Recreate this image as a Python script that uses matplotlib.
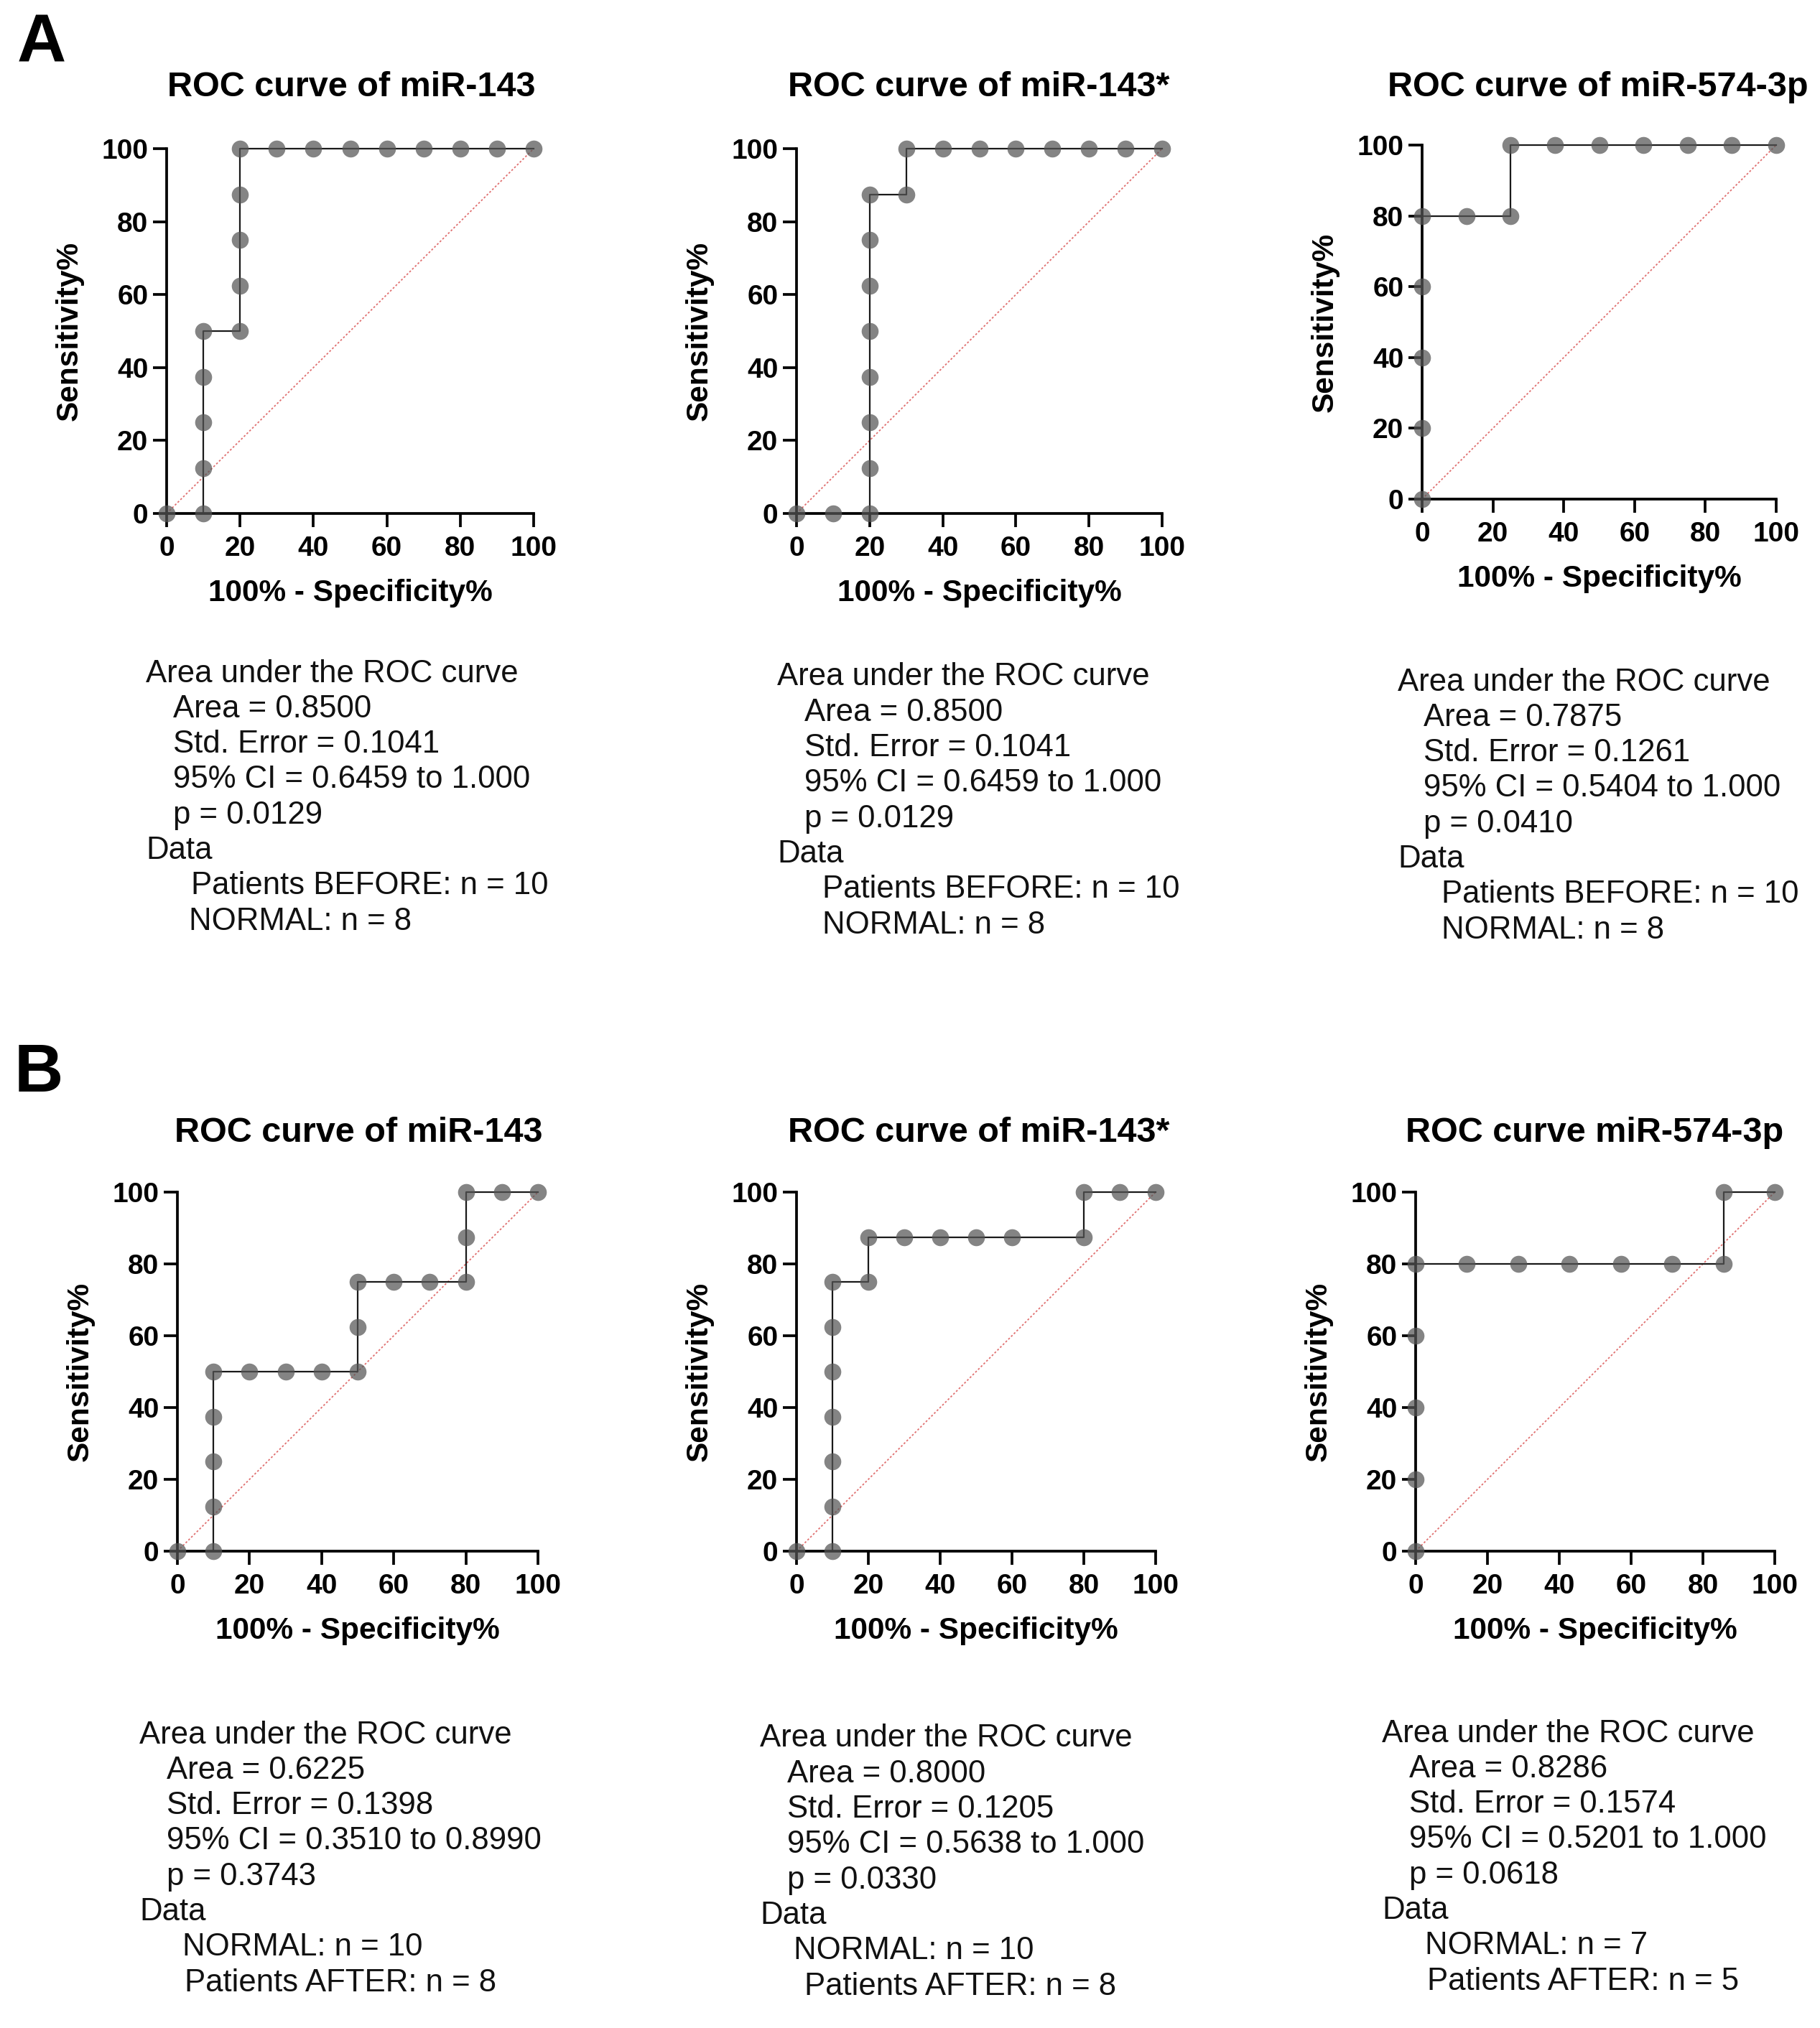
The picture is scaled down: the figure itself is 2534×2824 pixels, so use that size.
import matplotlib
matplotlib.use("Agg")
import matplotlib.pyplot as plt

plt.rcParams['font.family'] = ['Liberation Sans', 'DejaVu Sans']

W, H = 2534, 2824

# ---------------- data ----------------
titles = ["ROC curve of miR-143", "ROC curve of miR-143*", "ROC curve of miR-574-3p",
          "ROC curve of miR-143", "ROC curve of miR-143*", "ROC curve miR-574-3p"]

a1_x = [0, 10, 10, 10, 10, 10, 20, 20, 20, 20, 20, 30, 40, 50, 60, 70, 80, 90, 100]
a1_y = [0, 0, 12.5, 25, 37.5, 50, 50, 62.5, 75, 87.5, 100, 100, 100, 100, 100, 100, 100, 100, 100]

a2_x = [0, 10, 20, 20, 20, 20, 20, 20, 20, 20, 30, 30, 40, 50, 60, 70, 80, 90, 100]
a2_y = [0, 0, 0, 12.5, 25, 37.5, 50, 62.5, 75, 87.5, 87.5, 100, 100, 100, 100, 100, 100, 100, 100]

a3_x = [0, 0, 0, 0, 0, 12.5, 25, 25, 37.5, 50, 62.5, 75, 87.5, 100]
a3_y = [0, 20, 40, 60, 80, 80, 80, 100, 100, 100, 100, 100, 100, 100]

b1_x = [0, 10, 10, 10, 10, 10, 20, 30, 40, 50, 50, 50, 60, 70, 80, 80, 80, 90, 100]
b1_y = [0, 0, 12.5, 25, 37.5, 50, 50, 50, 50, 50, 62.5, 75, 75, 75, 75, 87.5, 100, 100, 100]

b2_x = [0, 10, 10, 10, 10, 10, 10, 10, 20, 20, 30, 40, 50, 60, 80, 80, 90, 100]
b2_y = [0, 0, 12.5, 25, 37.5, 50, 62.5, 75, 75, 87.5, 87.5, 87.5, 87.5, 87.5, 87.5, 100, 100, 100]

b3_x = [0, 0, 0, 0, 0, 14.29, 28.57, 42.86, 57.14, 71.43, 85.71, 85.71, 100]
b3_y = [0, 20, 40, 60, 80, 80, 80, 80, 80, 80, 80, 100, 100]

xs_all = [a1_x, a2_x, a3_x, b1_x, b2_x, b3_x]
ys_all = [a1_y, a2_y, a3_y, b1_y, b2_y, b3_y]

ticks = [0, 20, 40, 60, 80, 100]

area = ["0.8500", "0.8500", "0.7875", "0.6225", "0.8000", "0.8286"]
stderr = ["0.1041", "0.1041", "0.1261", "0.1398", "0.1205", "0.1574"]
ci = ["0.6459 to 1.000", "0.6459 to 1.000", "0.5404 to 1.000",
      "0.3510 to 0.8990", "0.5638 to 1.000", "0.5201 to 1.000"]
pval = ["0.0129", "0.0129", "0.0410", "0.3743", "0.0330", "0.0618"]
group1 = ["Patients BEFORE: n = 10", "Patients BEFORE: n = 10", "Patients BEFORE: n = 10",
          "NORMAL: n = 10", "NORMAL: n = 10", "NORMAL: n = 7"]
group2 = ["NORMAL: n = 8", "NORMAL: n = 8", "NORMAL: n = 8",
          "Patients AFTER: n = 8", "Patients AFTER: n = 8", "Patients AFTER: n = 5"]

# ---------------- layout (pixels) ----------------
axes_px = [(232, 743, 207, 715), (1109, 1618, 207, 715), (1980, 2473, 202, 695),
           (247, 749, 1660, 2160), (1109, 1609, 1660, 2160), (1971, 2471, 1660, 2160)]
title_px = [(489, 122), (1363, 122), (2225, 121), (499, 1577), (1363, 1577), (2220, 1577)]
# x0 (heading), xi (indent), xs1, xs2 (sub lines), y first line
text_px = [(203, 241, 266, 263, 938), (1082, 1120, 1145, 1145, 943), (1946, 1982, 2007, 2007, 950),
           (194, 232, 254, 257, 2416), (1058, 1096, 1105, 1120, 2421), (1924, 1962, 1984, 1987, 2414)]
LS = 49.3

fig = plt.figure(figsize=(W / 100, H / 100), dpi=100)


def fx(px):
    return px / W


def fy(py):
    return 1 - py / H


for i in range(6):
    l, r, t, b = axes_px[i]
    ax = fig.add_axes([fx(l), fy(b), (r - l) / W, (b - t) / H])
    ax.plot([0, 100], [0, 100], linestyle=(0, (1.5, 1.5)), color='#e07070', lw=1.3, zorder=1)
    ax.plot(xs_all[i], ys_all[i], color='#1a1a1a', lw=1.6, zorder=2, clip_on=False)
    ax.plot(xs_all[i], ys_all[i], linestyle='none', marker='o', markersize=17,
            markerfacecolor='#555555', markeredgecolor='none', alpha=0.72, zorder=3, clip_on=False)
    ax.set_xlim(0, 100)
    ax.set_ylim(0, 100)
    ax.set_xticks(ticks)
    ax.set_yticks(ticks)
    for s in ['top', 'right']:
        ax.spines[s].set_visible(False)
    for s in ['left', 'bottom']:
        ax.spines[s].set_linewidth(2.7)
        ax.spines[s].set_color('black')
    ax.tick_params(axis='both', length=13.5, width=2.7, colors='black', labelsize=28)
    ax.tick_params(axis='x', pad=9)
    ax.tick_params(axis='y', pad=5)
    for lab in ax.get_xticklabels() + ax.get_yticklabels():
        lab.set_fontweight('bold')
    hpx = b - t
    wpx = r - l
    ax.text(0.5, -111 / hpx, "100% - Specificity%", transform=ax.transAxes,
            ha='center', va='center', fontsize=30.5, fontweight='bold')
    ax.text(-135 / wpx, 0.5, "Sensitivity%", transform=ax.transAxes, rotation=90,
            ha='center', va='center', fontsize=30.5, fontweight='bold')
    tx, ty = title_px[i]
    fig.text(fx(tx), fy(ty), titles[i], ha='center', va='center', fontsize=35, fontweight='bold')

    x0, xi, xs1, xs2, y0 = text_px[i]
    lines = [(x0, "Area under the ROC curve"),
             (xi, "Area = " + area[i]),
             (xi, "Std. Error = " + stderr[i]),
             (xi, "95% CI = " + ci[i]),
             (xi, "p = " + pval[i]),
             (x0, "Data"),
             (xs1, group1[i]),
             (xs2, group2[i])]
    for k, (xx, s) in enumerate(lines):
        fig.text(fx(xx), fy(y0 + k * LS), s, ha='left', va='center', fontsize=31.5, color='#111111')

fig.text(fx(24), fy(62), "A", ha='left', va='center', fontsize=68, fontweight='bold')
fig.text(fx(20), fy(1495), "B", ha='left', va='center', fontsize=68, fontweight='bold')

fig.savefig("out.png", dpi=100, facecolor='white')
